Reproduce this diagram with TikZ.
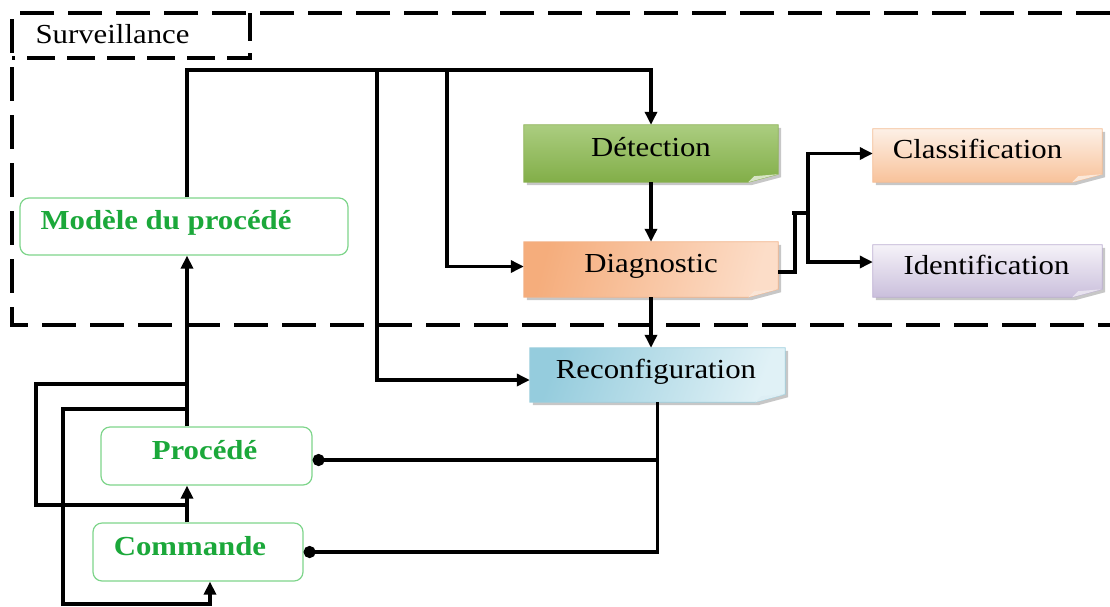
\documentclass[tikz,border=0pt]{standalone}
\usepackage{fontspec}
\setmainfont{Liberation Serif}
\usepackage{graphicx}
\usetikzlibrary{arrows.meta,backgrounds}

\definecolor{txtgreen}{HTML}{1BA83A}
\definecolor{boxgreen}{HTML}{7ED58B}
\definecolor{detA}{HTML}{ABCD80}
\definecolor{detB}{HTML}{82AE48}
\definecolor{detE}{HTML}{8DB257}
\definecolor{diaA}{HTML}{F5AD7C}
\definecolor{diaB}{HTML}{FCDDC8}
\definecolor{diaE}{HTML}{F2B48A}
\definecolor{recA}{HTML}{95CCDD}
\definecolor{recB}{HTML}{E0F1F6}
\definecolor{recE}{HTML}{9DCFDE}
\definecolor{clsA}{HTML}{FDF0E6}
\definecolor{clsB}{HTML}{F8C29A}
\definecolor{clsE}{HTML}{F4BC93}
\definecolor{idnA}{HTML}{F5F2F8}
\definecolor{idnB}{HTML}{CABFDC}
\definecolor{idnE}{HTML}{BCAED2}

% horizontally widened text
\newcommand\wide[1]{\scalebox{1.12}[1]{#1}}

% folded-corner note background drawn behind a named node
\newcommand\notebox[5]{%
  \fill[black!22] ([shift={(3pt,-3pt)}]#1.north west) -- ([shift={(3pt,-3pt)}]#1.north east)
     -- ([shift={(3pt,5pt)}]#1.south east) -- ([shift={(-27pt,-3pt)}]#1.south east)
     -- ([shift={(3pt,-3pt)}]#1.south west) -- cycle;
  \shadedraw[top color=#2, bottom color=#3, shading angle=#4, draw=#5, line width=0.8pt]
     (#1.north west) -- (#1.north east) -- ([yshift=8pt]#1.south east)
     -- ([xshift=-30pt]#1.south east) -- (#1.south west) -- cycle;
  \fill[#5!35!white] ([yshift=8pt]#1.south east) -- ([xshift=-30pt]#1.south east)
     -- ([xshift=-24pt,yshift=6pt]#1.south east) -- cycle;
}

\begin{document}
\begin{tikzpicture}[x=1pt,y=-1pt,
  every node/.style={font=\fontsize{27.5}{30}\selectfont},
  note/.style={rectangle, inner sep=0pt, text height=14pt, text depth=8pt},
  proc/.style={rectangle, rounded corners=9pt, draw=boxgreen, line width=1.2pt,
    fill=white, inner sep=0pt, text=txtgreen,
    font=\fontsize{27.5}{30}\selectfont\bfseries, text height=14pt, text depth=8pt},
  link/.style={line width=3.4pt},
  arr/.style={link, -{Triangle[length=13pt,width=12pt]}},
  dot/.style={link, {Circle[length=12pt]}-},
  frame/.style={line width=3.8pt, dash pattern=on 34pt off 14pt},
]
\useasboundingbox (0,0) rectangle (1110,606);

% monitoring frame and its title tab
\draw[frame] (1110,13) -- (12,13) -- (12,325) -- (1110,325);
\draw[frame, dash pattern=on 28pt off 12pt] (250,13) -- (250,58) -- (12,58);
\node[anchor=base west] (surv) at (32,43) {\wide{Surveillance}};

% process-side blocks
\node[proc, minimum width=328pt, minimum height=57pt] (mod) at (184,226.5)
  {\wide{Modèle du procédé}\hspace*{36pt}};
\node[proc, minimum width=211pt, minimum height=58pt] (pro) at (206.5,456)
  {\wide{Procédé}\hspace*{4pt}};
\node[proc, minimum width=210pt, minimum height=58pt] (cmd) at (198,552)
  {\wide{Commande}\hspace*{16pt}};

% monitoring blocks
\node[note, minimum width=254pt, minimum height=57pt] (det) at (651,153.5) {\wide{Détection}};
\node[note, minimum width=254pt, minimum height=55pt] (dia) at (651,269.5) {\wide{Diagnostic}};
\node[note, minimum width=255pt, minimum height=54pt] (rec) at (657.5,375) {\wide{Reconfiguration}\hspace*{3pt}};
\node[note, minimum width=229pt, minimum height=53pt] (cls) at (987.5,155.5) {\wide{Classification}\hspace*{20pt}};
\node[note, minimum width=229pt, minimum height=52pt] (idn) at (987.5,271) {\wide{Identification}\hspace*{2pt}};

\begin{scope}[on background layer]
  \notebox{det}{detA}{detB}{0}{detE}
  \notebox{dia}{diaA}{diaB}{75}{diaE}
  \notebox{rec}{recA}{recB}{70}{recE}
  \notebox{cls}{clsA}{clsB}{0}{clsE}
  \notebox{idn}{idnA}{idnB}{0}{idnE}
\end{scope}

% model output bus
\coordinate (tl) at (187,70);
\coordinate (b1) at (377,70);
\coordinate (b2) at (447,70);
\draw[arr] (mod.north -| tl) -- (tl) -- (tl -| det.north) -- (det.north);
\draw[arr] (b1) |- ([yshift=-5pt]rec.west);
\draw[arr] (b2) |- ([yshift=3pt]dia.west);

% monitoring chain
\draw[arr] (det.south) -- (dia.north);
\draw[arr] (dia.south) -- (dia.south |- rec.north);
\coordinate (fork) at (808,213);
\draw[link] ([yshift=-2.5pt]dia.east) -| (795,213);
\draw[link] (792,213) -- (fork);
\draw[arr] (fork) |- ([yshift=2pt]cls.west);
\draw[arr] (fork) |- ([yshift=9pt]idn.west);

% reconfiguration acting on process and control
\draw[dot] (cmd.east) -- (cmd.east -| rec.south) -- (rec.south);
\draw[dot] ([yshift=-4pt]pro.east) -- ([yshift=-4pt]pro.east -| rec.south);

% process loop
\coordinate (sp) at (187,0);
\draw[arr] (pro.north -| sp) -- (mod.south -| sp);
\draw[arr] (cmd.north -| sp) -- (pro.south -| sp);
\draw[link] (187,384) -| (36,505) -- (187,505);
\draw[arr] (187,409) -| (63,604) -| ([xshift=12pt]cmd.south);
\end{tikzpicture}
\end{document}
